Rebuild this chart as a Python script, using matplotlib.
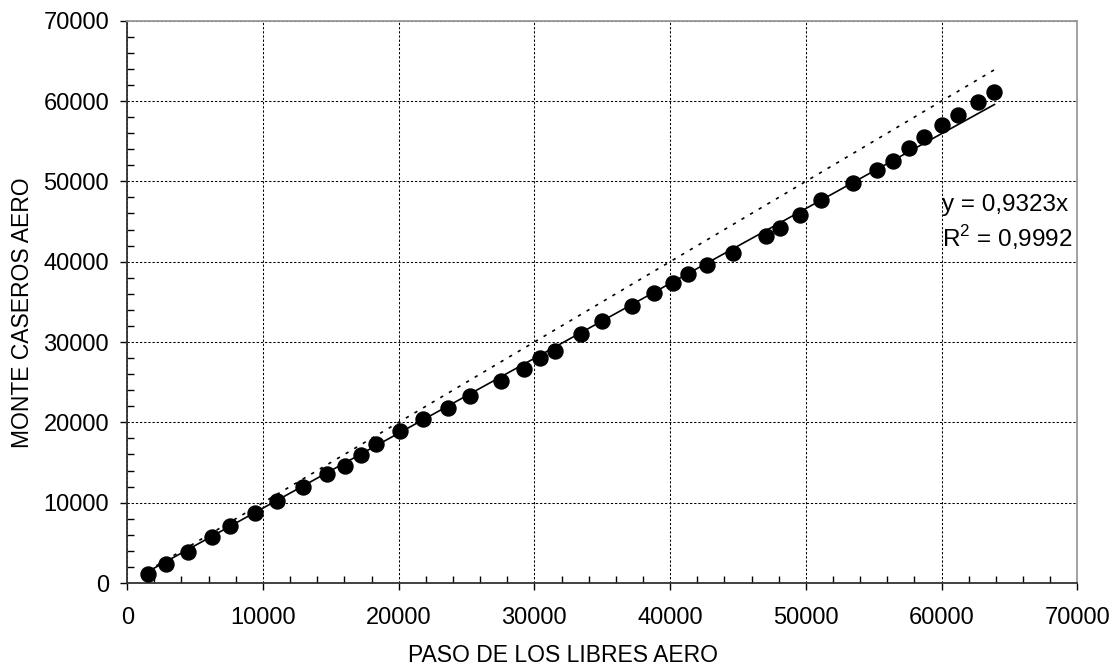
import matplotlib
matplotlib.use('Agg')
import matplotlib.pyplot as plt
from matplotlib.ticker import MultipleLocator
import numpy as np

plt.rcParams['font.family'] = ['Liberation Sans', 'DejaVu Sans']
plt.rcParams['mathtext.fontset'] = 'custom'
plt.rcParams['mathtext.rm'] = 'Liberation Sans'

# datos
paso_libres = [1511, 2859, 4480, 6271, 7598, 9396, 11017, 12933, 14746, 16050,
               17207, 18335, 20125, 21820, 23618, 25262, 27524, 29241, 30398, 31548,
               33419, 34967, 37222, 38843, 40199, 41304, 42705, 44665, 47060, 48080,
               49580, 51127, 53508, 55232, 56411, 57612, 58695, 60044, 61223, 62697,
               63898]
monte_caseros = [1162, 2375, 3833, 5708, 7083, 8708, 10208, 12000, 13625, 14625,
                 15958, 17333, 18875, 20417, 21833, 23250, 25167, 26625, 28000, 28875,
                 31000, 32667, 34542, 36125, 37292, 38500, 39625, 41042, 43230, 44190,
                 45750, 47625, 49792, 51417, 52583, 54125, 55583, 56958, 58250, 59833,
                 61083]
pendiente = 0.9323
r2 = '0,9992'

x = np.array(paso_libres)
y = np.array(monte_caseros)

W, H = 1117, 670
fig = plt.figure(figsize=(W / 100, H / 100), dpi=100)
ax0, ax1 = 127.2, 1077.3
ay0, ay1 = 583.0, 20.7
ax = fig.add_axes([ax0 / W, 1 - ay0 / H, (ax1 - ax0) / W, (ay0 - ay1) / H])

ax.set_xlim(0, 70000)
ax.set_ylim(0, 70000)

# grilla punteada
ax.grid(True, which='major', color='black', linestyle=(0, (2.2, 1.8)), linewidth=0.75)
ax.set_axisbelow(True)

# linea 1:1
xr = np.array([x.min(), x.max()])
ax.plot(xr, xr, color='black', linestyle=(0, (2, 4)), linewidth=1.2)
# tendencia
ax.plot(xr, pendiente * xr, color='black', linewidth=1.2)
# puntos
ax.plot(x, y, 'o', color='black', markersize=10.8, zorder=5)

ax.xaxis.set_major_locator(MultipleLocator(10000))
ax.yaxis.set_major_locator(MultipleLocator(10000))
ax.xaxis.set_minor_locator(MultipleLocator(2000))
ax.yaxis.set_minor_locator(MultipleLocator(2000))
ax.tick_params(which='major', direction='out', length=5, width=1, colors='black',
               labelsize=17)
ax.tick_params(axis='x', which='major', pad=12)
ax.tick_params(axis='y', which='major', pad=8)
ax.tick_params(which='minor', direction='in', length=5, width=1, colors='black')

for s in ['left', 'bottom']:
    ax.spines[s].set_color('#333333')
    ax.spines[s].set_linewidth(1.3)
for s in ['top', 'right']:
    ax.spines[s].set_color('#999999')
    ax.spines[s].set_linewidth(1.3)

fig.text(562.5 / W, 1 - 656 / H, 'PASO DE LOS LIBRES AERO', fontsize=16.5,
         ha='center', va='center')
fig.text(23 / W, 1 - 313 / H, 'MONTE CASEROS AERO', fontsize=16.5,
         ha='center', va='center', rotation=90)

fig.text(942.5 / W, 1 - 205 / H, 'y = 0,9323x', fontsize=17.5, ha='left', va='center')
fig.text(942.5 / W, 1 - 238 / H, 'R$^2$ = ' + r2, fontsize=17.5, ha='left', va='center')

fig.savefig('out.png', dpi=100)
